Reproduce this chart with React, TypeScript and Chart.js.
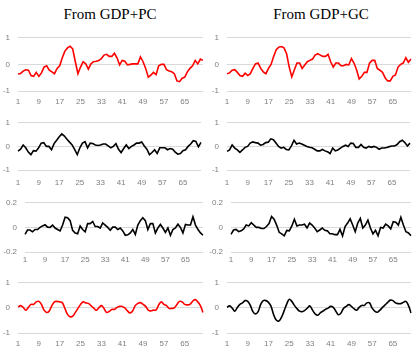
import React, { useEffect, useRef } from "react";
import { Chart, registerables } from "chart.js";

Chart.register(...registerables);

const categories: string[] = Array.from({ length: 72 }, (_, i) => String(i + 1));
const tickEvery = 8;

const pcRow1 = [-0.36,-0.34,-0.25,-0.2,-0.22,-0.42,-0.45,-0.3,-0.45,-0.32,-0.1,-0.05,-0.22,-0.28,-0.35,-0.15,-0.05,0.25,0.5,0.62,0.68,0.58,0.1,-0.35,-0.1,0.1,0.02,-0.18,0.02,0.1,0.12,0.15,0.22,0.35,0.38,0.3,0.3,0.42,0.25,-0.02,0.15,0.12,-0.02,0.0,0.02,0.02,0.02,0.28,0.1,-0.15,-0.48,-0.4,-0.3,-0.38,-0.05,0.0,0.0,-0.2,-0.25,-0.28,-0.35,-0.62,-0.65,-0.52,-0.48,-0.28,-0.15,-0.05,0.15,0.02,0.2,0.15];
const gcRow1 = [-0.35,-0.32,-0.22,-0.2,-0.3,-0.42,-0.45,-0.33,-0.42,-0.35,-0.15,0.02,0.05,-0.15,-0.28,-0.35,-0.15,0.0,0.3,0.55,0.65,0.67,0.62,0.4,-0.1,-0.47,-0.2,0.05,0.05,-0.15,-0.02,0.1,0.15,0.2,0.35,0.4,0.35,0.3,0.3,0.38,0.1,-0.1,0.05,0.05,-0.05,-0.05,0.0,-0.02,0.22,0.05,-0.2,-0.55,-0.45,-0.3,-0.3,0.05,0.15,0.15,-0.15,-0.22,-0.3,-0.5,-0.62,-0.62,-0.45,-0.4,-0.1,0.0,0.05,0.25,0.08,0.2];
const pcRow2 = [-0.2,-0.12,0.06,-0.06,-0.24,-0.35,-0.18,-0.2,-0.06,0.14,0.16,0.0,0.0,-0.14,0.12,0.26,0.41,0.53,0.44,0.3,0.18,0.06,-0.14,-0.35,-0.06,0.14,0.2,-0.06,0.14,0.12,0.06,0.04,0.06,0.1,0.1,0.02,-0.06,0.0,0.12,-0.12,-0.26,-0.09,0.06,-0.09,0.0,0.06,0.14,0.14,0.19,0.02,-0.12,-0.35,-0.26,-0.14,-0.3,-0.06,-0.06,-0.06,-0.14,-0.09,-0.12,-0.24,-0.33,-0.3,-0.18,-0.14,0.0,0.1,0.24,0.21,-0.02,0.17];
const gcRow2 = [-0.21,-0.15,0.06,-0.07,-0.15,-0.25,-0.15,-0.04,0.0,0.14,0.19,0.16,0.14,0.05,0.08,0.16,0.18,0.32,0.28,0.14,0.0,-0.07,-0.04,-0.13,-0.15,0.02,0.26,0.1,0.14,0.1,0.05,0.0,-0.04,-0.06,-0.12,-0.19,-0.19,-0.13,-0.19,-0.23,-0.3,-0.07,-0.19,-0.15,-0.07,0.0,0.05,0.0,0.14,0.12,-0.04,-0.04,0.08,-0.04,-0.07,0.0,-0.04,0.0,-0.04,-0.12,-0.07,-0.07,-0.05,-0.01,0.02,0.02,0.08,0.2,0.26,0.16,0.02,0.14];
const pcRow3 = [-0.057,-0.021,-0.021,-0.036,-0.017,-0.017,0.0,0.012,0.021,0.002,0.0,0.019,-0.005,-0.017,-0.029,0.019,0.083,0.079,0.055,-0.024,-0.045,-0.052,0.012,-0.017,-0.036,0.031,0.031,0.048,0.007,0.007,-0.005,0.036,0.019,0.0,-0.024,0.002,0.002,-0.017,-0.005,-0.029,-0.064,-0.06,-0.045,-0.017,-0.057,0.019,0.055,0.079,0.055,-0.017,0.031,0.031,-0.045,-0.005,0.024,-0.005,-0.04,-0.005,-0.064,-0.017,-0.005,0.026,0.0,-0.045,0.024,0.019,0.019,0.086,0.019,-0.017,-0.045,-0.064];
const gcRow3 = [-0.056,-0.021,-0.016,-0.035,-0.028,-0.012,0.019,0.012,0.038,0.019,0.0,0.0,-0.009,-0.009,0.007,0.031,0.089,0.066,0.019,-0.04,-0.052,-0.068,-0.024,-0.028,0.012,0.066,0.012,0.019,0.019,0.026,-0.005,0.035,0.019,-0.005,-0.035,-0.021,-0.005,-0.024,-0.028,-0.052,-0.052,-0.059,-0.059,-0.016,-0.07,0.007,0.035,0.07,0.019,-0.035,0.035,0.073,-0.005,0.019,0.059,-0.005,-0.052,-0.024,-0.068,0.0,-0.005,0.026,0.012,-0.012,0.047,0.042,0.019,0.082,0.019,-0.035,-0.045,-0.068];
const pcRow4 = [0.04,0.09,0.02,-0.09,0.02,0.14,0.14,0.24,0.26,0.14,-0.09,-0.18,-0.12,0.09,0.24,0.26,0.24,0.21,-0.02,-0.26,-0.35,-0.33,-0.18,-0.02,0.14,0.24,0.2,0.18,0.09,0.0,-0.09,0.0,0.09,-0.02,-0.18,-0.14,-0.06,-0.06,0.02,0.06,0.06,0.0,-0.12,-0.2,-0.12,0.09,0.18,0.21,0.14,0.06,-0.09,-0.12,-0.09,-0.08,0.12,0.24,0.14,0.09,-0.02,-0.02,0.0,0.14,0.26,0.24,0.14,0.12,0.14,0.26,0.33,0.24,0.09,-0.18];
const gcRow4 = [0.02,0.08,-0.01,-0.13,0.02,0.14,0.2,0.29,0.26,0.1,-0.15,-0.24,-0.15,0.14,0.29,0.29,0.22,0.06,-0.27,-0.48,-0.52,-0.38,-0.13,0.14,0.34,0.26,0.1,-0.03,-0.13,-0.15,-0.1,-0.01,0.08,-0.09,-0.24,-0.29,-0.2,-0.13,-0.06,-0.01,0.06,0.02,-0.13,-0.27,-0.2,-0.01,0.06,0.13,0.06,-0.03,-0.09,0.02,0.1,0.1,0.2,0.2,-0.01,-0.13,-0.17,-0.09,0.02,0.12,0.22,0.31,0.29,0.2,0.17,0.17,0.22,0.26,0.1,-0.2];

const RED = "#ff0000";
const BLACK = "#000000";

type Spec = {
  data: number[];
  color: string;
  left: number;
  top: number;
  width: number;
  height: number;
  yw: number;
  xh: number;
  padTop: number;
  padRight: number;
  labelPad: number;
  min: number;
  max: number;
  step: number;
  tension: number;
};

function Mini(p: Spec) {
  const ref = useRef<HTMLCanvasElement | null>(null);
  useEffect(() => {
    if (!ref.current) return;
    const chart = new Chart(ref.current, {
      type: "line",
      data: {
        labels: categories,
        datasets: [
          {
            data: p.data,
            borderColor: p.color,
            borderWidth: 1.6,
            pointRadius: 0,
            tension: p.tension,
            fill: false,
          },
        ],
      },
      options: {
        animation: false,
        responsive: false,
        layout: { padding: { top: p.padTop, right: p.padRight, left: 0, bottom: 0 } },
        plugins: { legend: { display: false }, tooltip: { enabled: false }, title: { display: false } },
        scales: {
          x: {
            type: "category",
            offset: false,
            grid: { display: false, drawTicks: false },
            border: { display: false },
            ticks: {
              autoSkip: false,
              maxRotation: 0,
              minRotation: 0,
              padding: p.labelPad,
              color: "#7f7f7f",
              font: { family: "Liberation Sans", size: 8 },
              callback: (_v: any, i: number) => (i % tickEvery === 0 ? categories[i] : ""),
            },
            afterFit: (s: any) => {
              s.height = p.xh;
            },
          },
          y: {
            min: p.min,
            max: p.max,
            grid: { color: "#d9d9d9", lineWidth: 1, drawTicks: false },
            border: { display: false },
            ticks: {
              stepSize: p.step,
              padding: 8,
              color: "#7f7f7f",
              font: { family: "Liberation Sans", size: 8 },
            },
            afterFit: (s: any) => {
              s.width = p.yw;
            },
          },
        },
      },
    });
    return () => chart.destroy();
  }, []);
  return (
    <canvas
      ref={ref}
      width={p.width}
      height={p.height}
      style={{ position: "absolute", left: p.left, top: p.top, width: p.width, height: p.height, display: "block" }}
    />
  );
}

const rows = [
  { top: 25, height: 85, padTop: 8, xh: 19, labelPad: 6, min: -1, max: 1, step: 1, tension: 0 },
  { top: 110, height: 80, padTop: 4, xh: 20, labelPad: 8, min: -1, max: 1, step: 1, tension: 0 },
  { top: 190, height: 80, padTop: 6, xh: 18, labelPad: 3, min: -0.2, max: 0.2, step: 0.2, tension: 0 },
  { top: 270, height: 83, padTop: 7, xh: 20, labelPad: 6, min: -1, max: 1, step: 1, tension: 0.4 },
];

const leftSeries = [pcRow1, pcRow2, pcRow3, pcRow4];
const rightSeries = [gcRow1, gcRow2, gcRow3, gcRow4];
const leftColors = [RED, BLACK, BLACK, RED];
const rightColors = [RED, BLACK, BLACK, BLACK];

export default function App() {
  const titleStyle: React.CSSProperties = {
    position: "absolute",
    top: 4,
    width: 200,
    textAlign: "center",
    fontFamily: "'Liberation Serif', 'Times New Roman', serif",
    fontSize: 15,
    lineHeight: "20px",
    color: "#000",
    whiteSpace: "nowrap",
  };
  return (
    <div style={{ position: "fixed", left: 0, top: 0, width: 418, height: 353, background: "#fff", overflow: "hidden" }}>
      <div style={{ ...titleStyle, left: 10 }}>From GDP+PC</div>
      <div style={{ ...titleStyle, left: 221 }}>From GDP+GC</div>
      {rows.map((r, i) => (
        <React.Fragment key={i}>
          <Mini
            data={leftSeries[i]}
            color={leftColors[i]}
            left={0}
            top={r.top}
            width={209}
            height={r.height}
            yw={i === 2 ? 25 : 18}
            xh={r.xh}
            padTop={r.padTop}
            padRight={6}
            labelPad={r.labelPad}
            min={r.min}
            max={r.max}
            step={r.step}
            tension={r.tension}
          />
          <Mini
            data={rightSeries[i]}
            color={rightColors[i]}
            left={209}
            top={r.top}
            width={209}
            height={r.height}
            yw={i === 2 ? 22 : 18}
            xh={r.xh}
            padTop={r.padTop}
            padRight={7}
            labelPad={r.labelPad}
            min={r.min}
            max={r.max}
            step={r.step}
            tension={r.tension}
          />
        </React.Fragment>
      ))}
    </div>
  );
}
